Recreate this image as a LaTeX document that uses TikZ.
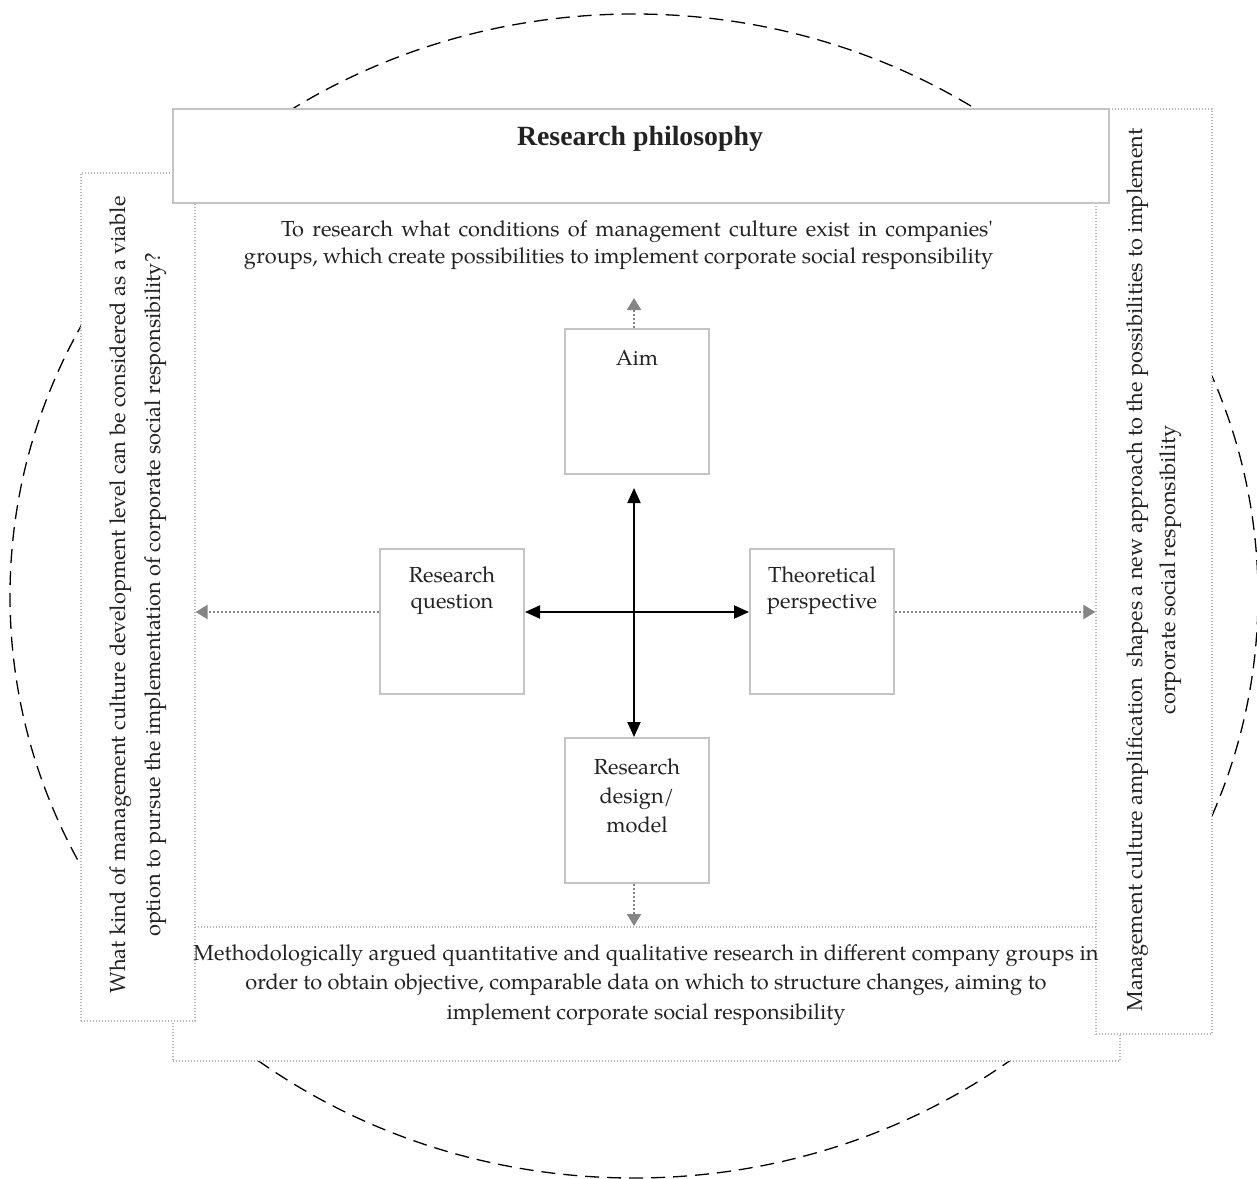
\documentclass[tikz,border=0pt]{standalone}
\usepackage{fontspec}
\setmainfont{TeX Gyre Pagella}
\newfontfamily\titlefont{Liberation Serif}
\usetikzlibrary{arrows.meta}
\definecolor{boxgrey}{HTML}{C4C4C4}
\definecolor{dotgrey}{HTML}{B4B4B4}
\definecolor{arrgrey}{HTML}{858585}
\definecolor{txtc}{HTML}{222222}
\tikzset{
  gbox/.style={draw=boxgrey, line width=1pt, fill=white, minimum width=72pt, minimum height=72.5pt, inner sep=0pt},
  dbox/.style={draw=dotgrey, line width=0.6pt, dash pattern=on 0.6pt off 0.9pt, fill=white, inner sep=0pt},
  txt/.style={text=txtc, font=\fontsize{10.9}{13.5}\selectfont, align=center, inner sep=0pt},
  blk/.style={line width=1pt, {Triangle[length=7.5pt,width=6.5pt]}-{Triangle[length=7.5pt,width=6.5pt]}},
  garr/.style={draw=arrgrey, line width=1pt, dash pattern=on 1pt off 1pt, -{Triangle[length=6pt,width=7pt]}, arrgrey}
}
\begin{document}
\begin{tikzpicture}[x=0.5pt,y=-0.5pt]
\useasboundingbox (0,0) rectangle (1257,1178);
\fill[white] (0,0) rectangle (1257,1178);
% dashed ellipse
\draw[line width=0.65pt, dash pattern=on 7pt off 4pt] (634,596) ellipse [x radius=312pt, y radius=291pt];
% main dotted frame
\node[dbox, minimum width=473.5pt, minimum height=470.5pt] (mainbox) at (646.5,590.5) {};
% side boxes
\node[dbox, minimum width=57pt, minimum height=424pt] (lbox) at (138,597) {};
\node[dbox, minimum width=58pt, minimum height=462.5pt] (rbox) at (1154,571.5) {};
% title box
\node[draw=boxgrey, line width=0.6pt, fill=white, minimum width=468pt, minimum height=47pt, inner sep=0pt] (tbox) at (641,156) {};
\node[text=txtc, font=\titlefont\fontsize{13.9}{16}\selectfont\bfseries, inner sep=0pt] (title) at (640,139) {Research philosophy};
% separator
\coordinate (sepL) at (195,927);
\coordinate (sepR) at (1096,927);
\draw[dotgrey, line width=0.6pt, dash pattern=on 0.6pt off 0.9pt] (sepL) -- (sepR);
% top text
\node[txt] (toptext1) at (637,232) {\makebox[356pt][s]{To research what conditions of management culture exist in companies\textquotesingle}};
\node[txt] (toptext2) at (618.5,259) {groups, which create possibilities to implement corporate social responsibility};
% bottom text
\node[txt, font=\fontsize{10.9}{14.75}\selectfont] (bottext) at (646,985) {Methodologically argued quantitative and qualitative research in different company groups in\\order to obtain objective, comparable data on which to structure changes, aiming to\\implement corporate social responsibility};
% rotated texts
\node[txt, rotate=90, font=\fontsize{10.9}{17.5}\selectfont] (ltext) at (138,595) {What kind of management culture development level can be considered as a viable\\option to pursue the implementation of corporate social responsibility?};
\node[txt, rotate=90, font=\fontsize{10.9}{16.5}\selectfont] (rtext) at (1154,570) {Management culture amplification\ \ shapes a new approach to the possibilities to implement\\corporate social responsibility};
% four boxes
\node[gbox] (aim) at (637,401.5) {};
\node[gbox] (rq) at (452,621.5) {};
\node[gbox] (tp) at (822,621.5) {};
\node[gbox] (design) at (637,810.5) {};
\node[txt] (aimt) at (637,358) {Aim};
\node[txt, font=\fontsize{10.9}{13}\selectfont] (rqt) at (452,591) {Research\\question};
\node[txt, font=\fontsize{10.9}{13}\selectfont] (tpt) at (822,591) {Theoretical\\perspective};
\node[txt, font=\fontsize{10.9}{14.5}\selectfont] (designt) at (637,796) {Research\\design/\\model};
% black arrows
\draw[blk] ([yshift=-6.5pt]aim.south -| 634,0) -- (design.north -| 634,0);
\draw[blk] (rq.east |- 0,612) -- (tp.west |- 0,612);
% grey dotted arrows
\coordinate (aimup) at (634,298);
\coordinate (designdown) at (634,926);
\draw[garr] (aim.north -| aimup) -- (aimup);
\draw[garr] (rq.west |- 0,612) -- (lbox.east |- 0,612);
\draw[garr] (tp.east |- 0,612) -- (rbox.west |- 0,612);
\draw[garr] (design.south -| designdown) -- (designdown);
\end{tikzpicture}
\end{document}
